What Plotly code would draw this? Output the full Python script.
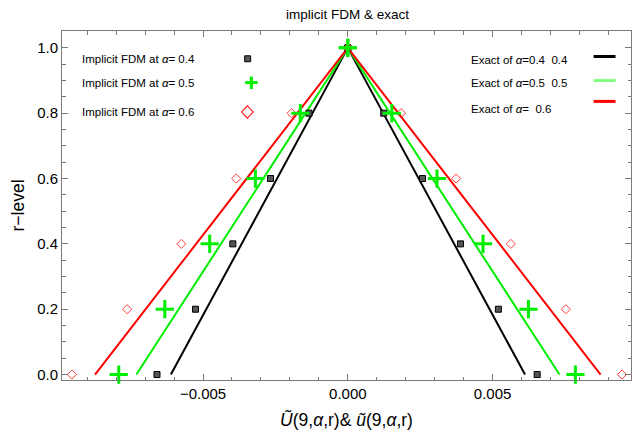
import plotly.graph_objects as go

# r-levels of the fuzzy solution
r_levels = [0.0, 0.2, 0.4, 0.6, 0.8, 1.0]

# Implicit FDM: lower / upper branches at each r-level
fdm_lower_04 = [-0.00659, -0.00526, -0.00397, -0.00267, -0.00134, 0.0]
fdm_upper_04 = [0.00654, 0.00520, 0.00389, 0.00258, 0.00124, 0.0]
fdm_lower_05 = [-0.00791, -0.00632, -0.00477, -0.00319, -0.00164, 0.0]
fdm_upper_05 = [0.00786, 0.00624, 0.00467, 0.00308, 0.00152, 0.0]
fdm_lower_06 = [-0.00953, -0.00762, -0.00575, -0.00385, -0.00194, 0.0]
fdm_upper_06 = [0.00947, 0.00753, 0.00563, 0.00374, 0.00184, 0.0]

# Exact solution: lower / upper branches at r = 0 and r = 1
r_exact = [0.0, 1.0]
exact_lower_04 = [-0.00611, 0.0]
exact_upper_04 = [0.00612, 0.0]
exact_lower_05 = [-0.00730, 0.0]
exact_upper_05 = [0.00731, 0.0]
exact_lower_06 = [-0.00873, 0.0]
exact_upper_06 = [0.00873, 0.0]

FONT = "Liberation Sans, Arial, sans-serif"
W, H = 641, 435
L, R, T, B = 62, 9, 31, 52
PW, PH = W - L - R, H - T - B


def px(x):
    return (x - L) / PW


def py(y):
    return (H - B - y) / PH


fig = go.Figure()

# exact solutions: lower branch up to the peak, then upper branch back down
for lo, up, col in [
    (exact_lower_04, exact_upper_04, "#000000"),
    (exact_lower_05, exact_upper_05, "#00ee00"),
    (exact_lower_06, exact_upper_06, "#ff0000"),
]:
    xs = lo + up[::-1]
    ys = r_exact + r_exact[::-1]
    fig.add_trace(go.Scatter(x=xs, y=ys, mode="lines",
                             line=dict(color=col, width=2), showlegend=False,
                             cliponaxis=False))


def both(lo, up):
    return lo + up, r_levels + r_levels


x4, y4 = both(fdm_lower_04, fdm_upper_04)
fig.add_trace(go.Scatter(x=x4, y=y4, mode="markers", showlegend=False,
                         marker=dict(symbol="square", size=6, color="#555555",
                                     line=dict(color="#000000", width=1)),
                         cliponaxis=False))
x6, y6 = both(fdm_lower_06, fdm_upper_06)
fig.add_trace(go.Scatter(x=x6, y=y6, mode="markers", showlegend=False,
                         marker=dict(symbol="diamond-open", size=7, color="#ff4040",
                                     line=dict(color="#ff4040", width=1)),
                         cliponaxis=False))
x5, y5 = both(fdm_lower_05, fdm_upper_05)
fig.add_trace(go.Scatter(x=x5, y=y5, mode="markers", showlegend=False,
                         marker=dict(symbol="cross-thin", size=13, color="#00ee00",
                                     line=dict(color="#00ee00", width=3)),
                         cliponaxis=False))

shapes = []
annotations = []

# left legend: implicit FDM keys
fdm_labels = ["Implicit FDM at <i>α</i>= 0.4",
              "Implicit FDM at <i>α</i>= 0.5",
              "Implicit FDM at <i>α</i>= 0.6"]
fdm_rows = [59, 83.5, 112.5]
for txt, yy in zip(fdm_labels, fdm_rows):
    annotations.append(dict(x=px(80), y=py(yy), xref="paper", yref="paper",
                            text=txt, showarrow=False, xanchor="left",
                            yanchor="middle",
                            font=dict(family=FONT, size=11.5, color="#000000")))
# square key
shapes.append(dict(type="rect", xref="paper", yref="paper",
                   x0=px(245), x1=px(251), y0=py(56), y1=py(62),
                   fillcolor="#555555", line=dict(color="#000000", width=1)))
# cross key
shapes.append(dict(type="line", xref="paper", yref="paper",
                   x0=px(245.5), x1=px(258), y0=py(83), y1=py(83),
                   line=dict(color="#00ee00", width=3)))
shapes.append(dict(type="line", xref="paper", yref="paper",
                   x0=px(251.7), x1=px(251.7), y0=py(77), y1=py(89.5),
                   line=dict(color="#00ee00", width=3)))
# diamond key
cx, cy = 247.7, 112.7
shapes.append(dict(type="path", xref="paper", yref="paper",
                   path=(f"M {px(cx - 5.8)},{py(cy)} L {px(cx)},{py(cy - 6.3)} "
                         f"L {px(cx + 5.8)},{py(cy)} L {px(cx)},{py(cy + 6.3)} Z"),
                   line=dict(color="#ff3030", width=1.2)))

# right legend: exact solution keys
exact_labels = ["Exact of <i>α</i>=0.4  0.4",
                "Exact of <i>α</i>=0.5  0.5",
                "Exact of <i>α</i>=  0.6"]
exact_text_rows = [60, 83.5, 109.5]
exact_line_rows = [56.7, 81, 102]
exact_key_cols = ["#000000", "#80ff80", "#ff0000"]
for txt, yt, yl, col in zip(exact_labels, exact_text_rows, exact_line_rows,
                            exact_key_cols):
    annotations.append(dict(x=px(470), y=py(yt), xref="paper", yref="paper",
                            text=txt.replace("  ", "&nbsp; "), showarrow=False,
                            xanchor="left", yanchor="middle",
                            font=dict(family=FONT, size=11.5, color="#000000")))
    shapes.append(dict(type="line", xref="paper", yref="paper",
                       x0=px(594.5), x1=px(616.5), y0=py(yl), y1=py(yl),
                       line=dict(color=col, width=3)))

axis_common = dict(
    showgrid=False, zeroline=False, showline=True, linecolor="#7a7a7a",
    linewidth=1, mirror="allticks", ticks="inside", ticklen=6, tickwidth=1,
    tickcolor="#7a7a7a",
    tickfont=dict(family=FONT, size=15, color="#000000"),
)

fig.update_layout(
    width=W, height=H,
    margin=dict(l=L, r=R, t=T, b=B),
    paper_bgcolor="#ffffff", plot_bgcolor="#ffffff",
    title=dict(text="implicit FDM &amp; exact", x=(347.5) / W, xanchor="center",
               y=1 - 14 / H, yanchor="middle",
               font=dict(family=FONT, size=13.5, color="#000000")),
    xaxis=dict(range=[-0.00987, 0.00978], dtick=0.005, tick0=0,
               tickformat=".3f",
               minor=dict(dtick=0.001, ticks="inside", ticklen=3.5,
                          tickcolor="#7a7a7a"),
               title=dict(text="<i>Ũ</i>(9,<i>α</i>,r)&amp; <i>ũ</i>(9,<i>α</i>,r)",
                          standoff=12,
                          font=dict(family=FONT, size=17.5, color="#000000")),
               **axis_common),
    yaxis=dict(range=[-0.0167, 1.0516], dtick=0.2, tick0=0, tickformat=".1f",
               minor=dict(dtick=0.05, ticks="inside", ticklen=3.5,
                          tickcolor="#7a7a7a"),
               title=dict(text="r\u2212level", standoff=8,
                          font=dict(family=FONT, size=17.5, color="#000000")),
               **axis_common),
    shapes=shapes,
    annotations=annotations,
)

fig.write_html("out.html")
